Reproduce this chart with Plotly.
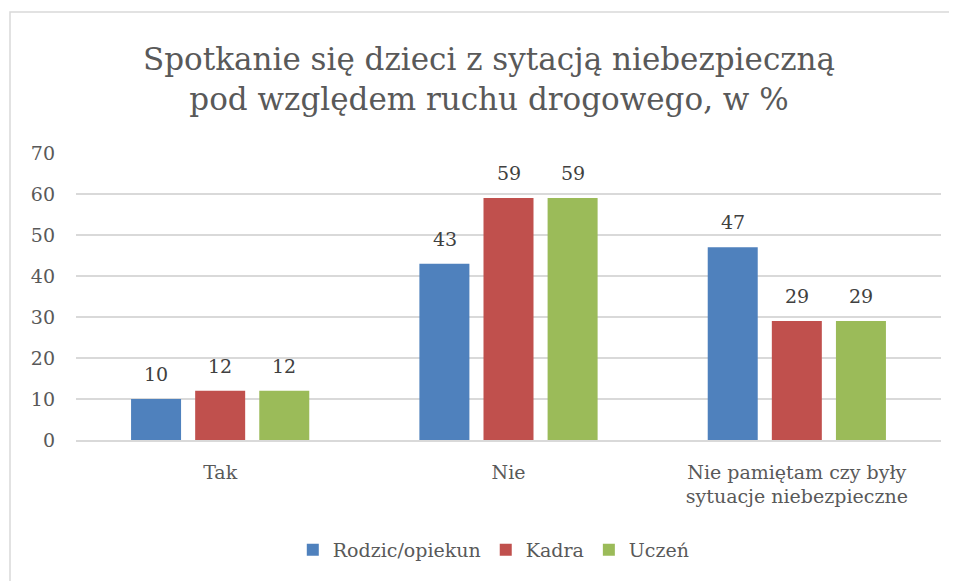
import plotly.graph_objects as go

categories = ["Tak", "Nie", "Nie pamiętam czy były<br>sytuacje niebezpieczne"]
series_names = ["Rodzic/opiekun", "Kadra", "Uczeń"]
rodzic = [10, 43, 47]
kadra = [12, 59, 29]
uczen = [12, 59, 29]

COLORS = ["#4F81BD", "#C0504D", "#9BBB59"]
TEXT_COLOR = "#595959"
GRID_COLOR = "#D9D9D9"
FONT = "DejaVu Serif"
BAR_PITCH_PX = 64  # horizontal distance between neighbouring bars in a group

fig = go.Figure()
for i, (name, vals, color) in enumerate(zip(series_names, [rodzic, kadra, uczen], COLORS)):
    fig.add_trace(go.Bar(
        x=categories, y=vals, name=name,
        marker=dict(color=color, line=dict(width=0)),
        hoverinfo="x+y+name",
    ))
    # value labels sit a bit higher above the bars than plotly's outside text
    for cat, v in zip(categories, vals):
        fig.add_annotation(
            x=cat, y=v, xref="x", yref="y",
            text=str(v), showarrow=False,
            xshift=(i - 1) * BAR_PITCH_PX, yshift=12, yanchor="bottom",
            font=dict(family=FONT, size=19, color="#404040"),
        )

fig.update_layout(
    width=957, height=581,
    paper_bgcolor="white", plot_bgcolor="white",
    margin=dict(l=68, r=24, t=145, b=149),
    barmode="group", bargap=0.333, bargroupgap=0.22,
    font=dict(family=FONT, color=TEXT_COLOR),
    title=dict(
        text="Spotkanie się dzieci z sytacją niebezpieczną<br>pod względem ruchu drogowego, w %",
        x=0.4775, xref="paper", xanchor="center",
        y=0.893, yref="container", yanchor="top",
        font=dict(family=FONT, size=31, color=TEXT_COLOR),
    ),
    xaxis=dict(
        showgrid=False, showline=True, linecolor=GRID_COLOR, linewidth=1.5,
        tickfont=dict(family=FONT, size=19, color=TEXT_COLOR),
        ticklabelstandoff=14,
    ),
    yaxis=dict(
        range=[0, 70], dtick=10, showgrid=True, gridcolor=GRID_COLOR, gridwidth=1.5,
        zeroline=False, showline=False,
        tickfont=dict(family=FONT, size=19, color=TEXT_COLOR),
        ticklabelstandoff=20,
    ),
    legend=dict(
        orientation="h", x=0.483, xanchor="center", y=-0.383, yanchor="middle",
        font=dict(family=FONT, size=19, color=TEXT_COLOR),
        traceorder="normal", itemwidth=30,
    ),
    shapes=[dict(
        type="rect", xref="paper", yref="paper",
        x0=-0.0763, x1=1.1, y0=-1.0, y1=1.491,
        line=dict(color=GRID_COLOR, width=1.5), layer="below",
    )],
)

fig.write_html("out.html")
